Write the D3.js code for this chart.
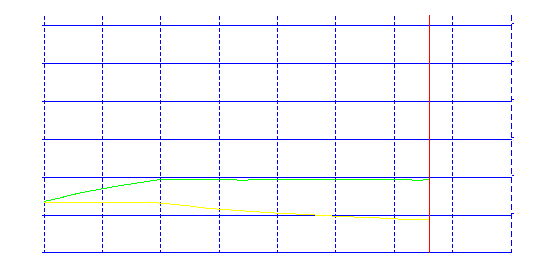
<!DOCTYPE html>
<html>
<head>
<meta charset="utf-8">
<script src="https://cdn.jsdelivr.net/npm/d3@7"></script>
<style>
html, body { margin: 0; padding: 0; background: #ffffff; }
svg { display: block; }
</style>
</head>
<body>
<script>
// ---- data ----
const xTicks = [0, 1, 2, 3, 4, 5, 6, 7, 8];
const yTicks = [0, 1, 2, 3, 4, 5, 6];

const greenX = [0, 0.25, 0.5, 0.75, 1, 1.25, 1.5, 1.75, 2, 3.3, 3.31, 3.49, 3.5, 6.3, 6.31, 6.49, 6.5, 6.6];
const greenY = [1.335, 1.42, 1.52, 1.60, 1.67, 1.74, 1.80, 1.86, 1.916, 1.916, 1.89, 1.89, 1.916, 1.916, 1.89, 1.89, 1.916, 1.916];

const yellowX = [0, 1.9, 2.0, 2.25, 2.5, 2.75, 3.0, 3.5, 4.0, 4.5, 5.0, 5.5, 6.0, 6.1, 6.6];
const yellowY = [1.308, 1.308, 1.290, 1.256, 1.216, 1.163, 1.131, 1.078, 1.026, 0.991, 0.946, 0.912, 0.885, 0.862, 0.859];

const markerX = [6.6];

// ---- drawing ----
const W = 539, H = 270;
const svg = d3.select("body").append("svg")
  .attr("width", W).attr("height", H)
  .style("background", "#ffffff");

const x = d3.scaleLinear().domain([0, 8]).range([44, 511]);
const y = d3.scaleLinear().domain([0, 6]).range([252, 25]);

const px = v => Math.floor(x(v)) + 0.5;
const py = v => Math.ceil(y(v)) + 0.5;

const g = svg.append("g").attr("shape-rendering", "crispEdges");

// horizontal grid lines
g.selectAll("line.h").data(yTicks).join("line")
  .attr("class", "h")
  .attr("x1", 42).attr("x2", px(8) + 0.5)
  .attr("y1", d => py(d)).attr("y2", d => py(d))
  .attr("stroke", "#0000ff").attr("stroke-width", 1);

// small right ticks
g.selectAll("line.rt").data(yTicks.filter(d => d > 0)).join("line")
  .attr("class", "rt")
  .attr("x1", px(8) + 0.5).attr("x2", px(8) + 2.5)
  .attr("y1", d => py(d) - 2).attr("y2", d => py(d) - 2)
  .attr("stroke", "#0000ff").attr("stroke-width", 1);

// vertical dashed grid lines
g.selectAll("line.v").data(xTicks.filter(d => d < 8)).join("line")
  .attr("class", "v")
  .attr("x1", d => px(d)).attr("x2", d => px(d))
  .attr("y1", 16).attr("y2", 253)
  .attr("stroke", "#0000ff").attr("stroke-width", 1)
  .attr("stroke-dasharray", "4,2");

// right edge line (longer dashes)
g.append("line")
  .attr("x1", px(8)).attr("x2", px(8))
  .attr("y1", 15).attr("y2", 253)
  .attr("stroke", "#0000ff").attr("stroke-width", 1)
  .attr("stroke-dasharray", "6,3");

// red marker line
g.selectAll("line.m").data(markerX).join("line")
  .attr("class", "m")
  .attr("x1", d => px(d)).attr("x2", d => px(d))
  .attr("y1", 15).attr("y2", 253)
  .attr("stroke", "#ff0000").attr("stroke-width", 1);

// data lines
const line = d3.line().x(d => x(d[0])).y(d => y(d[1]));
const yellowData = yellowX.map((v, i) => [v, yellowY[i]]);
const greenData = greenX.map((v, i) => [v, greenY[i]]);

g.append("path").datum(yellowData)
  .attr("d", line).attr("fill", "none")
  .attr("stroke", "#ffff00").attr("stroke-width", 1);

g.append("path").datum(greenData)
  .attr("d", line).attr("fill", "none")
  .attr("stroke", "#00ff00").attr("stroke-width", 1);
</script>
</body>
</html>
